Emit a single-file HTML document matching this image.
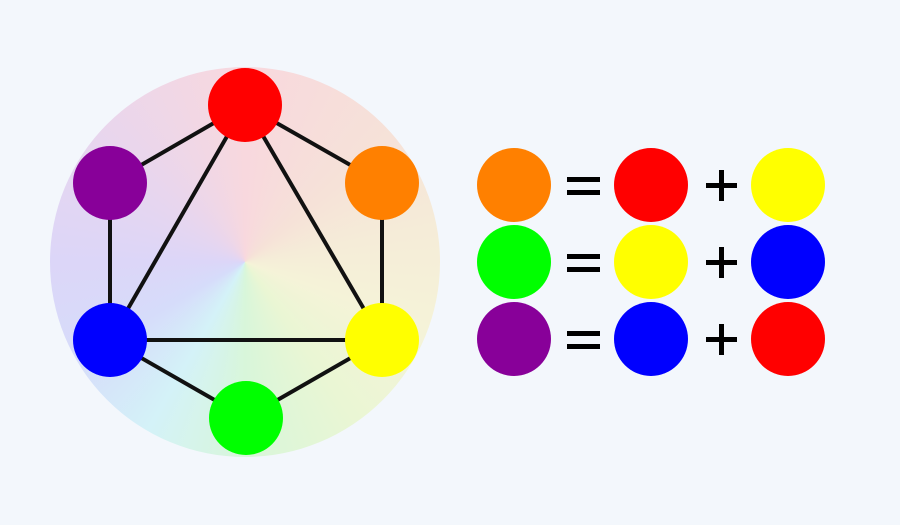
<!DOCTYPE html>
<html><head><style>
body{margin:0;width:900px;height:525px;background:#f3f7fc;overflow:hidden;position:relative;font-family:"Liberation Sans",sans-serif}
.wheel{position:absolute;left:50px;top:67px;width:390px;height:390px;border-radius:50%;
background:conic-gradient(from 0deg,#f8d8de 0deg,#f6e2d8 50deg,#f5ecd8 80deg,#f5f3d8 110deg,#eaf6d4 145deg,#d8f6da 180deg,#d4f2f8 210deg,#d6dcfa 240deg,#dcd6f8 270deg,#e8d6ee 310deg,#f8d8de 360deg)}
svg{position:absolute;left:0;top:0}
.t{position:absolute;left:-9999px}
</style></head><body>
<div class="wheel"></div>
<svg width="900" height="525">
<g stroke="#111" stroke-width="4">
<line x1="245" y1="105" x2="382" y2="183"/><line x1="382" y1="183" x2="382" y2="340"/>
<line x1="382" y1="340" x2="246" y2="418"/><line x1="246" y1="418" x2="110" y2="340"/>
<line x1="110" y1="340" x2="110" y2="183"/><line x1="110" y1="183" x2="245" y2="105"/>
<line x1="245" y1="105" x2="382" y2="340"/><line x1="382" y1="340" x2="110" y2="340"/>
<line x1="110" y1="340" x2="245" y2="105"/>
</g>
<circle cx="245" cy="105" r="37" fill="#ff0000"/>
<circle cx="382" cy="183" r="37" fill="#ff8000"/>
<circle cx="382" cy="340" r="37" fill="#ffff00"/>
<circle cx="246" cy="418" r="37" fill="#00ff00"/>
<circle cx="110" cy="340" r="37" fill="#0000ff"/>
<circle cx="110" cy="183" r="37" fill="#880099"/>
<circle cx="514" cy="185" r="37" fill="#ff8000"/><circle cx="651" cy="185" r="37" fill="#ff0000"/><circle cx="788" cy="185" r="37" fill="#ffff00"/>
<circle cx="514" cy="262" r="37" fill="#00ff00"/><circle cx="651" cy="262" r="37" fill="#ffff00"/><circle cx="788" cy="262" r="37" fill="#0000ff"/>
<circle cx="514" cy="339" r="37" fill="#880099"/><circle cx="651" cy="339" r="37" fill="#0000ff"/><circle cx="788" cy="339" r="37" fill="#ff0000"/>
<g fill="#000">
<g transform="translate(0,0)"><rect x="567" y="177" width="33" height="5"/><rect x="567" y="190" width="33" height="5"/><rect x="706" y="183" width="31" height="5"/><rect x="719" y="170" width="5" height="31"/></g>
<g transform="translate(0,77)"><rect x="567" y="177" width="33" height="5"/><rect x="567" y="190" width="33" height="5"/><rect x="706" y="183" width="31" height="5"/><rect x="719" y="170" width="5" height="31"/></g>
<g transform="translate(0,154)"><rect x="567" y="177" width="33" height="5"/><rect x="567" y="190" width="33" height="5"/><rect x="706" y="183" width="31" height="5"/><rect x="719" y="170" width="5" height="31"/></g>
</g>
</svg>
<span class="t">= + = + = +</span>
</body></html>
